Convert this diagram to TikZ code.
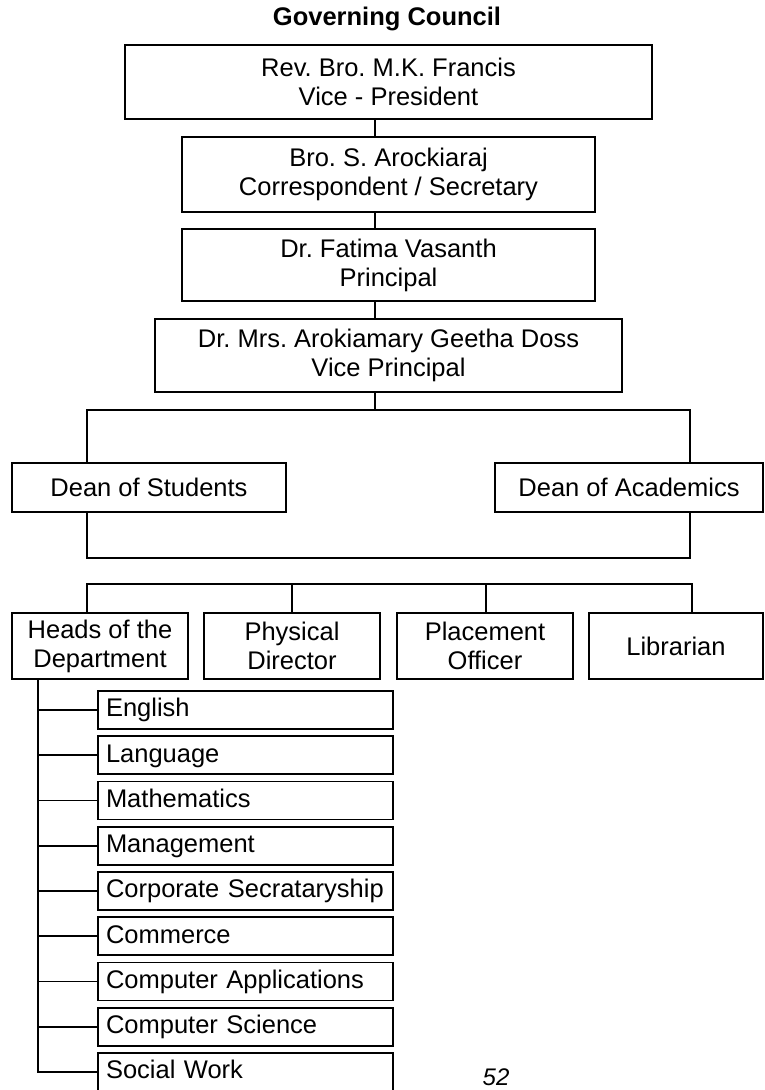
\documentclass[tikz,border=0pt]{standalone}
\usepackage{fontspec}
\setmainfont{Liberation Sans}
\usepackage{tikz}
\usetikzlibrary{calc}
\frenchspacing

\begin{document}
\begin{tikzpicture}[x=1pt,y=-1pt,
	box/.style={draw,line width=1.8pt,rectangle,align=center,inner sep=0pt,
		font=\fontsize{25.5}{29}\selectfont},
	deptbox/.style={draw,line width=1.8pt,rectangle,align=left,inner xsep=8pt,inner ysep=0pt,
		text width=279pt,text height=18.5pt,text depth=5pt,minimum height=38pt,font=\fontsize{25.5}{29}\selectfont},
	conn/.style={line width=1.6pt}]
	    \useasboundingbox (0,0) rectangle (764,1090);
	    \node[font=\fontsize{25.5}{29}\selectfont\bfseries] (gc) at (387,19) {Governing Council};
	    % top of the chain
	    \node[box,minimum width=527pt,minimum height=74pt] (rev) at (388.5,82) {Rev. Bro. M.K. Francis\\Vice - President};
	    \node[box,line width=2.2pt,minimum width=413pt,minimum height=75pt] (sec) at (388.5,174.5) {Bro. S. Arockiaraj\\Correspondent / Secretary};
	    \node[box,line width=2.2pt,minimum width=413pt,minimum height=72pt] (prin) at (388.5,265) {Dr. Fatima Vasanth\\Principal};
	    \node[box,minimum width=467pt,minimum height=73pt] (vp) at (388.5,355.5) {Dr. Mrs. Arokiamary Geetha Doss\\Vice Principal};
	    \coordinate (trunk) at (375,0);
	    \draw[conn] (rev.south -| trunk) -- (sec.north -| trunk) (sec.south -| trunk) -- (prin.north -| trunk) (prin.south -| trunk) -- (vp.north -| trunk);
	    % deans
	    \node[box,minimum width=274pt,minimum height=49pt] (ds) at (149,487.5) {Dean of Students};
	    \node[box,minimum width=268pt,minimum height=49pt] (da) at (629,487.5) {Dean of Academics};
	    \coordinate (bl) at (87,410);
	    \coordinate (br) at (690,410);
	    \draw[conn] (vp.south -| trunk) -- (trunk |- bl);
	    \draw[conn] (bl |- ds.north) -- (bl) -- (br) -- (br |- da.north);
	    \coordinate (jl) at (87,558);
	    \coordinate (jr) at (690,558);
	    \draw[conn] (jl |- ds.south) -- (jl) -- (jr) -- (jr |- da.south);
	    % fourth row
	    \node[box,minimum width=176pt,minimum height=66pt] (hod) at (100,646) {Heads of the\\Department};
	    \node[box,minimum width=176pt,minimum height=66pt] (pd) at (292,646) {Physical\\Director};
	    \node[box,minimum width=176pt,minimum height=66pt] (po) at (485,646) {Placement\\Officer};
	    \node[box,minimum width=174pt,minimum height=66pt] (lib) at (676,646) {Librarian};
	    \coordinate (hl) at (87,584);
	    \coordinate (hr) at (692,584);
	    \draw[conn] (hl |- hod.north) -- (hl) -- (hr) -- (hr |- lib.north);
	    \draw[conn] (pd.north) -- (pd.north |- hl);
	    \draw[conn] (486,584) -- (po.north -| 486,0);
	    % departments
	    \node[deptbox] (eng) at (245.5,710) {English};
	    \node[deptbox] (lang) at (245.5,755.25) {Language};
	    \node[deptbox] (math) at (245.5,800.5) {Mathematics};
	    \node[deptbox] (mgmt) at (245.5,845.75) {Management};
	    \node[deptbox] (corp) at (245.5,891) {Corporate Secrataryship};
	    \node[deptbox] (comm) at (245.5,936.25) {Commerce};
	    \node[deptbox] (capp) at (245.5,981.5) {Computer Applications};
	    \node[deptbox] (csci) at (245.5,1026.75) {Computer Science};
	    \node[deptbox] (sw) at (245.5,1072) {Social Work};
	    \coordinate (dv) at (38,679);
	    \draw[conn] (dv |- hod.south) |- (sw.west);
	    \draw[conn] (eng.west) -- (eng.west -| dv) (lang.west) -- (lang.west -| dv) (math.west) -- (math.west -| dv)
	        (mgmt.west) -- (mgmt.west -| dv) (corp.west) -- (corp.west -| dv) (comm.west) -- (comm.west -| dv)
	        (capp.west) -- (capp.west -| dv) (csci.west) -- (csci.west -| dv);
	    \node[font=\fontsize{24}{28}\selectfont\itshape] (pg) at (496,1077) {52}; % page number
	    \end{tikzpicture}
\end{document}
